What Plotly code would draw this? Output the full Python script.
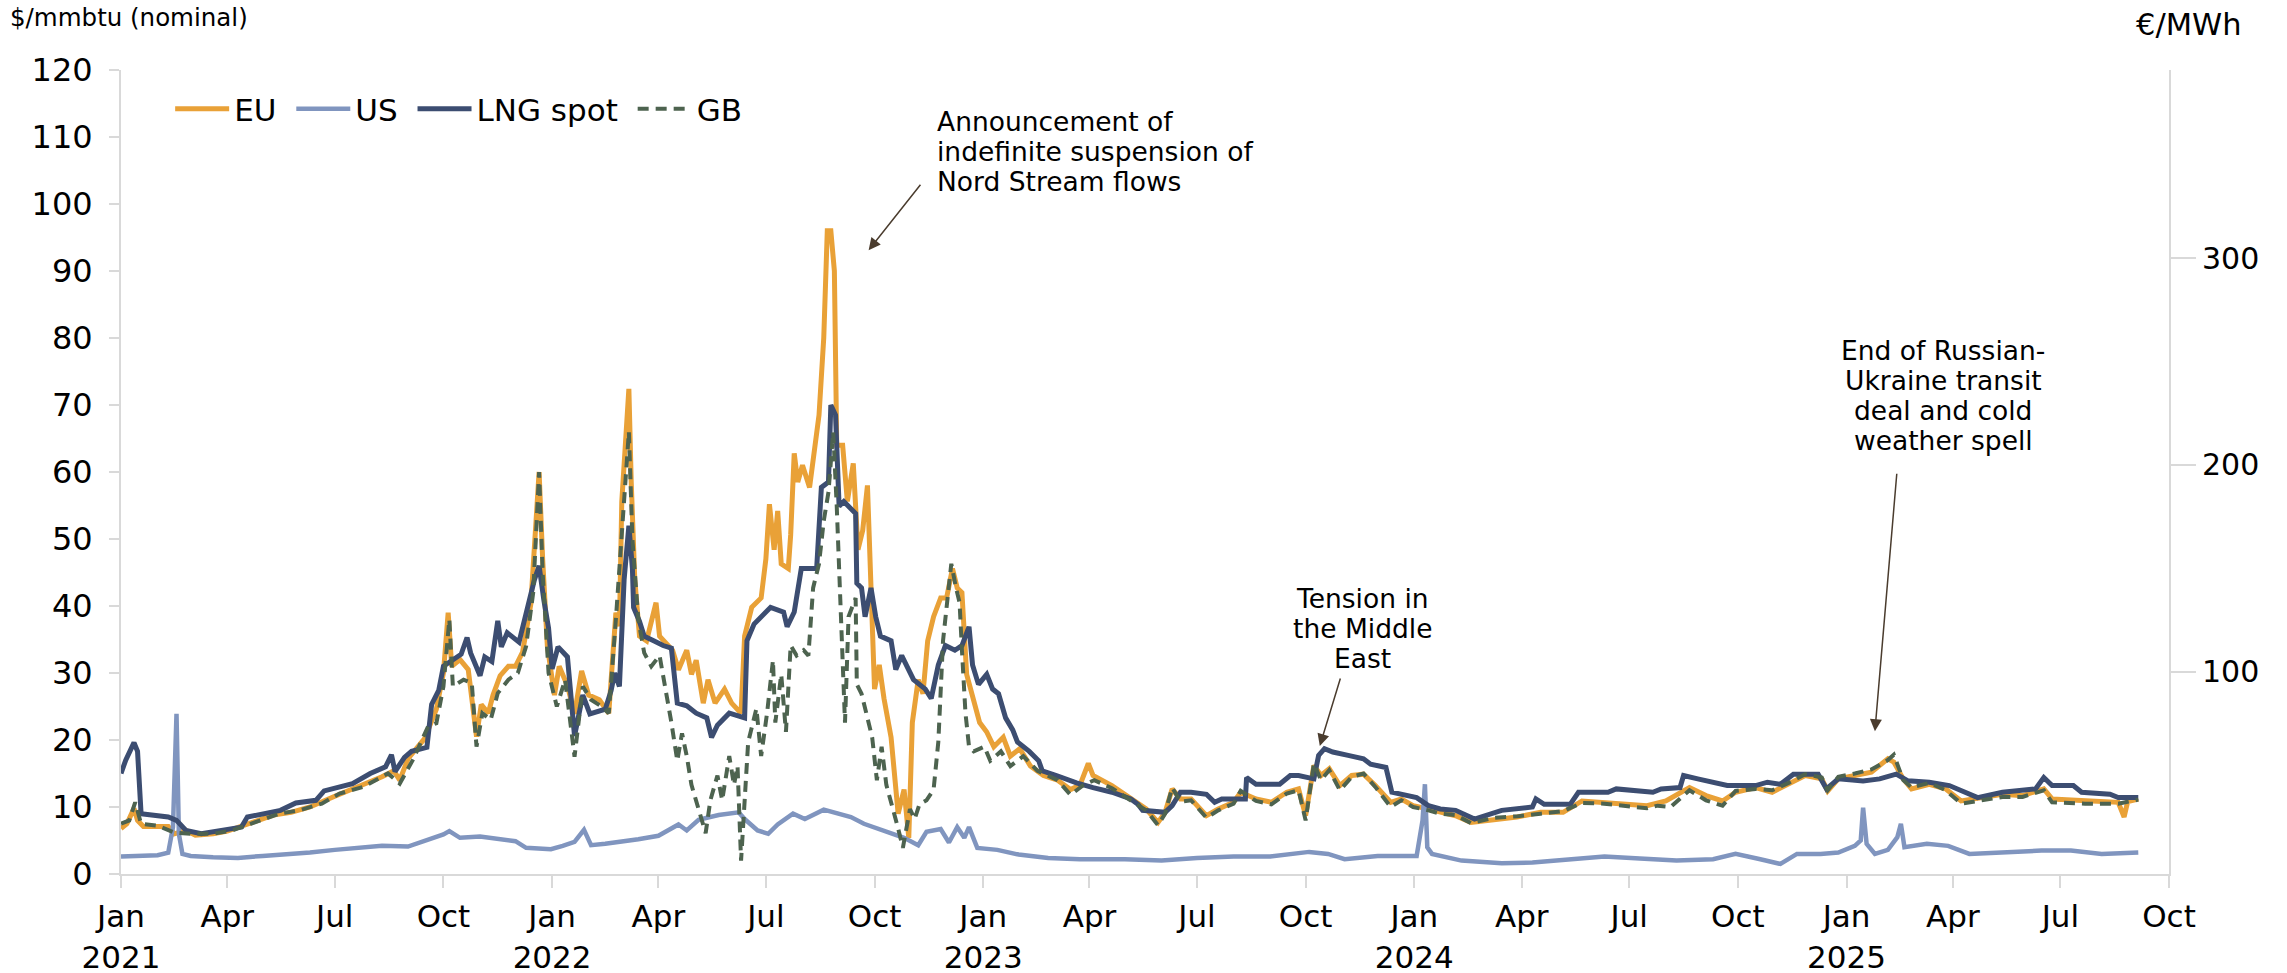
import plotly.graph_objects as go

# ---------------- data ($/mmbtu) ----------------
eu_dates = ["2021-01-01","2021-01-06","2021-01-12","2021-01-15","2021-01-20","2021-02-01","2021-02-10","2021-02-15","2021-02-25","2021-03-05","2021-03-20","2021-04-01","2021-04-20","2021-05-10","2021-05-25","2021-06-10","2021-07-01","2021-07-20","2021-08-10","2021-08-20","2021-08-25","2021-09-01","2021-09-15","2021-09-25","2021-10-01","2021-10-05","2021-10-08","2021-10-15","2021-10-22","2021-10-29","2021-11-02","2021-11-08","2021-11-12","2021-11-18","2021-11-25","2021-12-01","2021-12-07","2021-12-14","2021-12-21","2021-12-24","2021-12-28","2022-01-03","2022-01-07","2022-01-14","2022-01-20","2022-01-26","2022-02-01","2022-02-10","2022-02-18","2022-02-24","2022-02-27","2022-03-01","2022-03-07","2022-03-09","2022-03-12","2022-03-16","2022-03-22","2022-03-30","2022-04-02","2022-04-13","2022-04-18","2022-04-25","2022-04-29","2022-05-03","2022-05-09","2022-05-13","2022-05-19","2022-05-27","2022-06-02","2022-06-10","2022-06-13","2022-06-19","2022-06-27","2022-07-01","2022-07-04","2022-07-08","2022-07-11","2022-07-14","2022-07-20","2022-07-22","2022-07-25","2022-07-28","2022-08-01","2022-08-07","2022-08-11","2022-08-15","2022-08-19","2022-08-22","2022-08-25","2022-08-28","2022-08-30","2022-09-04","2022-09-08","2022-09-13","2022-09-17","2022-09-21","2022-09-25","2022-10-01","2022-10-05","2022-10-09","2022-10-15","2022-10-21","2022-10-26","2022-10-30","2022-11-02","2022-11-07","2022-11-11","2022-11-15","2022-11-20","2022-11-26","2022-12-01","2022-12-06","2022-12-10","2022-12-14","2022-12-18","2022-12-24","2022-12-29","2023-01-04","2023-01-10","2023-01-18","2023-01-24","2023-02-01","2023-02-10","2023-02-21","2023-03-05","2023-03-16","2023-03-24","2023-03-31","2023-04-04","2023-04-20","2023-05-06","2023-05-19","2023-05-29","2023-06-04","2023-06-10","2023-06-17","2023-06-26","2023-07-09","2023-07-19","2023-08-01","2023-08-07","2023-08-20","2023-09-02","2023-09-15","2023-09-25","2023-10-01","2023-10-08","2023-10-14","2023-10-21","2023-10-30","2023-11-09","2023-11-19","2023-11-29","2023-12-12","2023-12-21","2023-12-31","2024-01-13","2024-01-23","2024-02-05","2024-02-18","2024-03-09","2024-03-28","2024-04-17","2024-05-06","2024-05-22","2024-06-10","2024-07-16","2024-08-01","2024-08-13","2024-08-21","2024-09-04","2024-09-18","2024-09-29","2024-10-16","2024-10-30","2024-11-13","2024-11-27","2024-12-11","2024-12-16","2024-12-25","2025-01-08","2025-01-22","2025-02-05","2025-02-10","2025-02-18","2025-02-25","2025-03-12","2025-03-26","2025-04-08","2025-04-25","2025-05-13","2025-05-30","2025-06-17","2025-06-24","2025-07-22","2025-08-19","2025-08-24","2025-08-27","2025-09-05"]
eu_values = [6.8,7.5,9.8,8.0,7.1,7.0,7.1,6.0,6.5,5.8,6.0,6.4,7.6,8.8,9.2,10.0,11.6,12.9,14.5,15.4,14.0,17.2,20.2,24.6,30.0,39.0,31.0,32.0,30.5,20.5,25.3,24.0,26.7,29.6,31.0,31.0,33.1,40.3,60.0,47.0,34.0,26.7,31.0,28.1,23.9,30.3,26.7,26.0,24.0,39.0,37.0,55.6,72.4,58.5,44.0,35.5,34.8,40.5,35.5,33.4,30.5,33.4,29.8,31.9,25.5,29.0,25.5,27.6,25.5,24.0,35.5,39.8,41.2,47.0,55.2,48.4,54.2,46.3,45.6,50.6,62.8,58.5,61.0,57.7,63.5,68.5,80.0,96.0,96.0,90.0,64.0,64.0,55.6,61.3,48.4,51.3,58.0,27.6,31.2,26.2,20.4,9.0,12.6,5.4,22.6,29.0,26.9,34.8,38.4,41.2,41.2,45.6,42.7,42.0,29.8,25.5,22.6,21.2,19.0,20.4,17.6,18.7,16.1,14.7,14.0,12.6,13.3,16.5,14.7,13.2,11.2,9.7,7.7,9.2,12.7,11.2,11.2,8.7,9.7,10.7,12.2,11.2,10.7,12.2,12.7,8.7,16.2,14.7,15.7,13.2,14.7,14.9,13.2,10.7,11.2,10.2,9.7,9.2,8.7,7.7,8.2,8.5,9.2,9.2,10.9,10.7,10.2,10.9,12.2,12.9,11.7,10.9,12.2,12.9,12.2,13.4,14.7,14.2,12.4,14.2,14.7,15.2,17.2,16.7,14.2,12.7,13.4,12.7,10.9,11.4,11.9,11.7,12.7,11.2,10.9,10.7,8.5,10.8,11.2]

us_dates = ["2021-01-01","2021-01-20","2021-02-01","2021-02-10","2021-02-14","2021-02-17","2021-02-19","2021-02-22","2021-03-01","2021-03-20","2021-04-10","2021-05-01","2021-05-20","2021-06-10","2021-07-01","2021-07-20","2021-08-10","2021-09-01","2021-09-15","2021-10-01","2021-10-06","2021-10-15","2021-11-01","2021-11-15","2021-12-01","2021-12-10","2021-12-31","2022-01-10","2022-01-20","2022-01-28","2022-02-03","2022-02-15","2022-03-01","2022-03-15","2022-04-01","2022-04-18","2022-04-25","2022-05-05","2022-05-22","2022-06-08","2022-06-13","2022-06-24","2022-07-03","2022-07-11","2022-07-24","2022-08-03","2022-08-19","2022-08-31","2022-09-11","2022-09-22","2022-10-04","2022-10-15","2022-10-26","2022-11-07","2022-11-14","2022-11-26","2022-12-03","2022-12-10","2022-12-16","2022-12-20","2022-12-27","2023-01-13","2023-01-31","2023-02-25","2023-03-24","2023-05-01","2023-06-01","2023-07-01","2023-08-01","2023-09-01","2023-10-04","2023-10-20","2023-11-03","2023-12-01","2024-01-03","2024-01-08","2024-01-10","2024-01-12","2024-01-16","2024-02-10","2024-03-15","2024-04-10","2024-05-10","2024-06-10","2024-07-10","2024-08-10","2024-09-10","2024-09-29","2024-10-20","2024-11-06","2024-11-20","2024-12-10","2024-12-25","2025-01-08","2025-01-13","2025-01-15","2025-01-18","2025-01-25","2025-02-05","2025-02-13","2025-02-16","2025-02-19","2025-03-10","2025-03-28","2025-04-15","2025-05-13","2025-06-15","2025-07-10","2025-08-05","2025-09-05"]
us_values = [2.6,2.7,2.8,3.2,7.0,23.9,6.0,3.0,2.7,2.5,2.4,2.7,2.9,3.2,3.6,3.9,4.2,4.1,4.9,5.9,6.4,5.4,5.6,5.2,4.9,3.9,3.7,4.2,4.8,6.6,4.3,4.5,4.8,5.2,5.7,7.4,6.5,8.1,8.8,9.2,8.2,6.5,6.0,7.4,9.0,8.2,9.6,9.0,8.5,7.5,6.8,6.1,5.4,4.3,6.3,6.7,4.7,7.0,5.4,7.0,3.9,3.6,2.9,2.4,2.2,2.2,2.0,2.4,2.6,2.6,3.3,3.0,2.2,2.7,2.7,8.0,13.4,4.0,3.0,2.0,1.6,1.7,2.2,2.6,2.3,2.0,2.2,3.0,2.2,1.5,3.0,3.0,3.2,4.2,5.0,9.9,4.5,3.0,3.6,5.5,7.5,4.0,4.5,4.2,3.0,3.2,3.5,3.5,3.0,3.2]

lng_dates = ["2021-01-01","2021-01-05","2021-01-12","2021-01-15","2021-01-18","2021-02-01","2021-02-10","2021-02-17","2021-02-25","2021-03-10","2021-03-25","2021-04-13","2021-04-18","2021-04-30","2021-05-16","2021-05-29","2021-06-15","2021-06-22","2021-07-05","2021-07-16","2021-07-31","2021-08-13","2021-08-18","2021-08-21","2021-08-29","2021-09-04","2021-09-17","2021-09-21","2021-09-27","2021-10-01","2021-10-16","2021-10-21","2021-10-24","2021-11-01","2021-11-05","2021-11-11","2021-11-16","2021-11-19","2021-11-24","2021-12-04","2021-12-17","2021-12-21","2021-12-25","2021-12-29","2022-01-01","2022-01-06","2022-01-14","2022-01-20","2022-01-27","2022-02-02","2022-02-15","2022-02-20","2022-02-23","2022-02-27","2022-03-03","2022-03-07","2022-03-10","2022-03-11","2022-03-16","2022-03-20","2022-03-28","2022-04-05","2022-04-12","2022-04-17","2022-04-25","2022-05-03","2022-05-12","2022-05-16","2022-05-21","2022-05-31","2022-06-13","2022-06-15","2022-06-21","2022-07-05","2022-07-16","2022-07-19","2022-07-25","2022-07-31","2022-08-13","2022-08-17","2022-08-23","2022-08-25","2022-08-29","2022-09-01","2022-09-05","2022-09-15","2022-09-16","2022-09-20","2022-09-23","2022-09-28","2022-10-02","2022-10-06","2022-10-15","2022-10-19","2022-10-24","2022-11-03","2022-11-13","2022-11-18","2022-11-24","2022-11-30","2022-12-08","2022-12-14","2022-12-20","2022-12-23","2022-12-28","2023-01-04","2023-01-09","2023-01-14","2023-01-20","2023-01-26","2023-01-30","2023-02-09","2023-02-17","2023-02-20","2023-03-04","2023-03-21","2023-04-04","2023-04-20","2023-05-06","2023-05-12","2023-05-16","2023-06-04","2023-06-10","2023-06-17","2023-06-26","2023-07-09","2023-07-16","2023-07-22","2023-08-11","2023-08-12","2023-08-20","2023-09-09","2023-09-18","2023-09-25","2023-10-08","2023-10-12","2023-10-17","2023-10-24","2023-11-06","2023-11-19","2023-11-25","2023-12-08","2023-12-13","2023-12-21","2024-01-03","2024-01-13","2024-01-23","2024-02-05","2024-02-14","2024-02-21","2024-03-15","2024-04-10","2024-04-13","2024-04-20","2024-05-12","2024-05-19","2024-06-13","2024-06-20","2024-07-21","2024-07-28","2024-08-13","2024-08-16","2024-08-28","2024-09-11","2024-09-22","2024-10-16","2024-10-26","2024-11-06","2024-11-17","2024-12-08","2024-12-15","2024-12-25","2025-01-15","2025-01-29","2025-02-12","2025-02-22","2025-03-12","2025-03-29","2025-04-22","2025-05-13","2025-06-10","2025-06-17","2025-06-24","2025-07-12","2025-07-19","2025-08-12","2025-08-19","2025-09-05"]
lng_values = [15.0,17.0,19.6,18.3,9.0,8.8,8.5,8.0,6.5,6.0,6.5,7.0,8.5,8.9,9.5,10.6,11.0,12.4,13.1,13.5,15.0,16.0,17.8,15.3,17.4,18.3,18.9,25.3,27.4,31.0,32.8,35.3,33.0,29.6,32.4,31.7,37.8,33.9,36.0,34.6,43.9,46.0,40.9,36.7,30.6,33.9,32.4,20.6,26.7,23.9,24.6,27.4,30.0,28.0,44.0,52.0,45.6,39.8,37.7,35.5,34.8,34.1,33.7,25.5,25.1,24.0,23.3,20.4,22.2,24.0,23.3,34.8,37.3,39.8,39.1,36.9,39.1,45.6,45.6,57.7,58.5,70.0,68.5,54.9,55.6,53.8,43.4,42.7,38.4,42.7,38.4,35.5,34.8,30.5,32.6,29.0,27.6,26.2,31.2,34.1,33.4,34.1,36.9,31.2,28.3,29.8,27.6,26.9,23.3,21.5,19.7,18.3,16.9,15.4,14.7,13.6,12.9,12.2,11.2,10.4,9.5,9.2,10.2,12.2,12.2,11.9,10.7,11.2,11.2,14.4,13.4,13.4,14.7,14.7,14.2,17.7,18.7,18.2,17.7,17.2,16.4,15.9,12.2,11.9,11.4,10.2,9.7,9.5,8.7,8.2,9.5,10.0,11.2,10.4,10.4,12.2,12.2,12.7,12.2,12.7,12.9,14.7,14.2,13.7,13.2,13.2,13.7,13.4,14.9,14.9,12.7,14.2,13.9,14.2,14.9,13.9,13.7,13.2,11.4,12.2,12.7,14.4,13.2,13.2,12.2,11.9,11.4,11.4]

gb_dates = ["2021-01-01","2021-01-08","2021-01-13","2021-01-18","2021-02-01","2021-02-15","2021-03-01","2021-03-20","2021-04-05","2021-04-25","2021-05-15","2021-06-01","2021-06-20","2021-07-05","2021-07-25","2021-08-15","2021-08-25","2021-09-05","2021-09-18","2021-09-25","2021-10-01","2021-10-06","2021-10-09","2021-10-18","2021-10-25","2021-10-29","2021-11-03","2021-11-10","2021-11-16","2021-11-25","2021-12-03","2021-12-10","2021-12-16","2021-12-21","2021-12-24","2021-12-29","2022-01-05","2022-01-12","2022-01-20","2022-01-27","2022-02-03","2022-02-12","2022-02-18","2022-02-24","2022-03-01","2022-03-07","2022-03-10","2022-03-15","2022-03-20","2022-03-26","2022-04-02","2022-04-08","2022-04-12","2022-04-17","2022-04-21","2022-04-25","2022-04-29","2022-05-05","2022-05-11","2022-05-15","2022-05-21","2022-05-25","2022-05-31","2022-06-04","2022-06-07","2022-06-10","2022-06-13","2022-06-16","2022-06-23","2022-06-27","2022-07-02","2022-07-07","2022-07-09","2022-07-14","2022-07-18","2022-07-22","2022-07-27","2022-08-02","2022-08-06","2022-08-10","2022-08-15","2022-08-19","2022-08-23","2022-08-27","2022-08-30","2022-09-02","2022-09-06","2022-09-09","2022-09-15","2022-09-16","2022-09-20","2022-09-25","2022-09-29","2022-10-03","2022-10-07","2022-10-11","2022-10-17","2022-10-21","2022-10-25","2022-10-31","2022-11-04","2022-11-08","2022-11-14","2022-11-20","2022-11-24","2022-11-28","2022-12-01","2022-12-05","2022-12-09","2022-12-12","2022-12-14","2022-12-17","2022-12-20","2022-12-24","2023-01-02","2023-01-07","2023-01-16","2023-01-24","2023-02-04","2023-02-16","2023-03-05","2023-03-16","2023-03-27","2023-04-05","2023-04-20","2023-05-06","2023-05-19","2023-05-29","2023-06-04","2023-06-10","2023-06-17","2023-06-26","2023-07-09","2023-07-19","2023-08-01","2023-08-07","2023-08-20","2023-09-02","2023-09-15","2023-09-25","2023-10-01","2023-10-08","2023-10-14","2023-10-21","2023-10-30","2023-11-09","2023-11-19","2023-11-29","2023-12-12","2023-12-21","2023-12-31","2024-01-13","2024-01-23","2024-02-05","2024-02-18","2024-03-09","2024-03-28","2024-04-17","2024-05-06","2024-05-22","2024-06-10","2024-07-16","2024-07-25","2024-08-05","2024-08-21","2024-09-04","2024-09-18","2024-09-29","2024-10-16","2024-10-30","2024-11-13","2024-11-27","2024-12-11","2024-12-16","2024-12-25","2025-01-08","2025-01-22","2025-02-05","2025-02-10","2025-02-18","2025-02-25","2025-03-12","2025-03-26","2025-04-08","2025-04-25","2025-05-13","2025-05-30","2025-06-17","2025-06-24","2025-07-22","2025-08-19","2025-09-05"]
gb_values = [7.5,8.0,10.7,7.5,7.2,6.2,6.0,6.0,6.5,7.8,9.0,9.5,10.5,12.0,13.0,15.0,13.5,17.0,22.0,22.5,28.0,38.0,28.0,29.0,28.5,19.0,24.0,23.0,27.0,29.0,30.0,34.0,42.0,60.0,45.0,30.0,25.0,29.0,17.5,28.0,26.0,25.0,24.0,38.0,50.0,66.0,50.0,38.0,33.0,31.0,32.6,27.0,22.6,16.9,21.0,17.6,13.3,9.7,6.1,11.0,14.7,11.0,17.6,13.3,16.1,2.0,11.8,19.7,24.7,17.6,24.0,31.9,22.6,29.8,21.2,34.1,32.6,33.4,32.6,42.7,46.3,52.7,57.0,66.0,54.9,39.8,22.6,38.4,41.2,28.3,26.9,23.3,20.4,14.0,19.0,13.3,9.7,6.8,3.9,9.7,8.2,10.4,11.0,12.6,19.7,34.8,39.8,46.3,42.7,40.5,33.4,24.0,19.0,18.3,19.0,16.9,18.3,16.1,17.6,15.4,14.0,11.8,13.3,14.0,12.8,11.0,9.5,7.3,9.0,12.9,10.8,11.0,8.4,9.5,10.5,12.4,10.9,10.4,12.0,12.5,8.0,16.5,14.0,15.5,12.5,14.5,15.0,13.0,10.0,11.0,10.0,9.5,9.0,8.8,7.6,8.4,8.6,9.0,9.4,10.6,10.5,9.8,10.2,10.0,12.5,11.0,10.2,12.4,12.7,12.5,13.6,14.9,14.4,12.5,14.5,15.0,15.6,17.0,17.8,14.0,12.9,13.6,12.5,10.5,11.0,11.5,11.5,12.5,10.7,10.5,10.5,11.1]

tick_dates = ["2021-01-01","2021-04-01","2021-07-01","2021-10-01","2022-01-01","2022-04-01","2022-07-01","2022-10-01","2023-01-01","2023-04-01","2023-07-01","2023-10-01","2024-01-01","2024-04-01","2024-07-01","2024-10-01","2025-01-01","2025-04-01","2025-07-01","2025-10-01"]
tick_labels = ["Jan<br>2021","Apr","Jul","Oct","Jan<br>2022","Apr","Jul","Oct","Jan<br>2023","Apr","Jul","Oct","Jan<br>2024","Apr","Jul","Oct","Jan<br>2025","Apr","Jul","Oct"]
right_ticks = [100, 200, 300]

note_nord = ["Announcement of", "indefinite suspension of", "Nord Stream flows"]
note_me = ["Tension in", "the Middle", "East"]
note_ua = ["End of Russian-", "Ukraine transit", "deal and cold", "weather spell"]

# ---------------- styles ----------------
FONT = "DejaVu Sans, Verdana, sans-serif"
C_EU = "#E9A137"
C_US = "#8095BF"
C_LNG = "#3C4D71"
C_GB = "#4D634F"
AX = "#D9D9D9"
ARROW = "#4A3C2E"
NB = "\u00a0"

# plot-area geometry (px) used to place free text in paper coords
L, R, T, B = 121, 118, 70, 99
W, H = 2287, 973
PW, PH = W - L - R, H - T - B
def px(x):
    return (x - L) / PW
def py(y):
    return (H - B - y) / PH

fig = go.Figure()
fig.add_trace(go.Scatter(x=eu_dates, y=eu_values, name="EU" + NB, mode="lines",
                         line=dict(color=C_EU, width=5)))
fig.add_trace(go.Scatter(x=us_dates, y=us_values, name="US" + NB, mode="lines",
                         line=dict(color=C_US, width=4.5)))
fig.add_trace(go.Scatter(x=lng_dates, y=lng_values, name="LNG spot" + NB, mode="lines",
                         line=dict(color=C_LNG, width=5)))
fig.add_trace(go.Scatter(x=gb_dates, y=gb_values, name="GB", mode="lines",
                         line=dict(color=C_GB, width=4, dash="11px,7px")))
# invisible trace to carry the right-hand axis
fig.add_trace(go.Scatter(x=[eu_dates[0]], y=[100], yaxis="y2", mode="lines",
                         showlegend=False, hoverinfo="skip", line=dict(width=0)))

fig.update_layout(
    width=W, height=H, autosize=False,
    margin=dict(l=L, r=R, t=T, b=B, autoexpand=False),
    paper_bgcolor="white", plot_bgcolor="white",
    font=dict(family=FONT, size=31, color="black"),
    showlegend=True,
    legend=dict(orientation="h", x=0.024, y=0.985, xanchor="left", yanchor="top",
                font=dict(size=31), bgcolor="rgba(0,0,0,0)", traceorder="normal",
                itemwidth=54),
    xaxis=dict(type="date", range=["2021-01-01", "2025-10-01"], automargin=False,
               tickmode="array", tickvals=tick_dates, ticktext=tick_labels,
               showline=True, linecolor=AX, linewidth=2,
               ticks="outside", ticklen=12, tickcolor=AX, tickwidth=2,
               ticklabelstandoff=2,
               showgrid=False, zeroline=False, tickfont=dict(size=31)),
    yaxis=dict(range=[0, 120], dtick=10, tick0=0, automargin=False,
               showline=True, linecolor=AX, linewidth=2,
               ticks="outside", ticklen=10, tickcolor=AX, tickwidth=2,
               ticklabelstandoff=10,
               showgrid=False, zeroline=False, tickfont=dict(size=32)),
    yaxis2=dict(range=[2.1, 391], overlaying="y", side="right", automargin=False,
                tickmode="array", tickvals=right_ticks,
                showline=True, linecolor=AX, linewidth=2,
                ticks="outside", ticklen=25, tickcolor=AX, tickwidth=2,
                showgrid=False, zeroline=False, tickfont=dict(size=30)),
)

annos = [
    dict(text="$/mmbtu (nominal)", xref="paper", yref="paper", x=px(8), y=py(18),
         xanchor="left", yanchor="middle", showarrow=False, font=dict(size=24.5)),
    dict(text="€/MWh", xref="paper", yref="paper", x=px(2188), y=py(24),
         xanchor="center", yanchor="middle", showarrow=False, font=dict(size=30.5)),
]
FS = 26.5
for i, t in enumerate(note_nord):
    annos.append(dict(text=t, xref="paper", yref="paper", x=px(935), y=py(121.5 + 30 * i),
                      xanchor="left", yanchor="middle", showarrow=False, font=dict(size=FS)))
for i, t in enumerate(note_me):
    annos.append(dict(text=t, xref="paper", yref="paper", x=px(1362), y=py(598.5 + 30 * i),
                      xanchor="center", yanchor="middle", showarrow=False, font=dict(size=FS)))
for i, t in enumerate(note_ua):
    annos.append(dict(text=t, xref="paper", yref="paper", x=px(1943), y=py(350.5 + 30 * i),
                      xanchor="center", yanchor="middle", showarrow=False, font=dict(size=FS)))

arrow_style = dict(showarrow=True, arrowhead=2, arrowsize=1.6, arrowwidth=1.5,
                   arrowcolor=ARROW, text="", xref="x", yref="y")
annos.append(dict(x="2022-09-26", y=93.1, ax=53, ay=-67, **arrow_style))
annos.append(dict(x="2023-10-13", y=19.1, ax=21, ay=-69, **arrow_style))
annos.append(dict(x="2025-01-25", y=21.3, ax=22, ay=-259, **arrow_style))
fig.update_layout(annotations=annos)

fig.write_html("out.html", config={"displayModeBar": False},
               post_script="document.body.style.margin='0';")
